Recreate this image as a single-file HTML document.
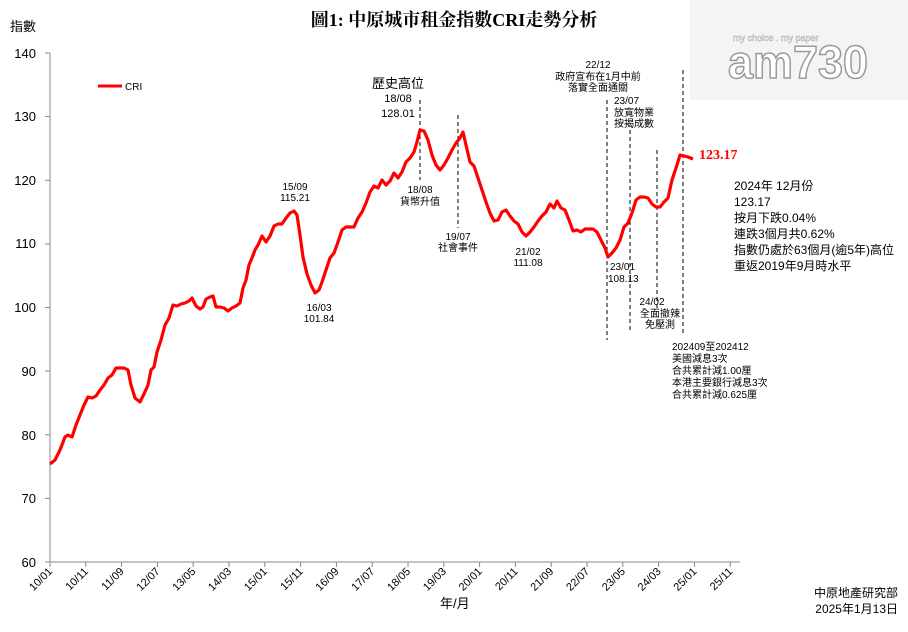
<!DOCTYPE html>
<html><head><meta charset="utf-8"><style>
body{margin:0;background:#fff;width:908px;height:627px;overflow:hidden;font-family:"Liberation Sans","Noto Sans CJK TC",sans-serif;}
svg text{font-family:"Liberation Sans","Noto Sans CJK TC",sans-serif;}
</style></head><body>
<svg width="908" height="627" viewBox="0 0 908 627" xmlns="http://www.w3.org/2000/svg">
<rect x="690" y="0" width="218" height="100" fill="#f4f4f4"/>
<text x="733" y="41" font-size="9" fill="#fff" stroke="#bbb" stroke-width="0.6">my choice . my paper</text>
<text x="728" y="78" font-size="46" font-weight="bold" fill="#fff" stroke="#999" stroke-width="1.5" textLength="140" lengthAdjust="spacingAndGlyphs">am730</text>
<text x="454" y="26" text-anchor="middle" font-size="18" font-weight="bold" style="font-family:'Liberation Serif','Noto Serif CJK SC',serif">圖1: 中原城市租金指數CRI走勢分析</text>
<text x="10" y="31" font-size="13">指數</text>
<g stroke="#888" stroke-width="1">
<line x1="50" y1="53" x2="50" y2="562"/><line x1="50" y1="562" x2="740" y2="562"/>
<line x1="45" y1="53" x2="50" y2="53"/><line x1="45" y1="116.6" x2="50" y2="116.6"/><line x1="45" y1="180.3" x2="50" y2="180.3"/><line x1="45" y1="243.9" x2="50" y2="243.9"/><line x1="45" y1="307.5" x2="50" y2="307.5"/><line x1="45" y1="371.1" x2="50" y2="371.1"/><line x1="45" y1="434.8" x2="50" y2="434.8"/><line x1="45" y1="498.4" x2="50" y2="498.4"/><line x1="45" y1="562" x2="50" y2="562"/>
</g>
<g font-size="13" text-anchor="end">
<text x="36" y="58">140</text><text x="36" y="121">130</text><text x="36" y="185">120</text><text x="36" y="248">110</text><text x="36" y="312">100</text><text x="36" y="376">90</text><text x="36" y="440">80</text><text x="36" y="503">70</text><text x="36" y="567">60</text>
</g>
<g stroke="#888" id="ticks"></g>
<g font-size="11" id="xl"></g>
<text x="440" y="608" font-size="13">年/月</text>
<g stroke="#000" stroke-width="1" stroke-dasharray="4,3" fill="none">
<line x1="420" y1="100" x2="420" y2="180"/><line x1="458" y1="115" x2="458" y2="228"/>
<line x1="607" y1="100" x2="607" y2="340"/><line x1="630" y1="130" x2="630" y2="333"/>
<line x1="657" y1="150" x2="657" y2="308"/><line x1="683" y1="70" x2="683" y2="335"/>
</g>
<polyline fill="none" stroke="#f00" stroke-width="3.2" stroke-linejoin="round" points="50,464 55,460 60,450 65,437 68,435 72,437 76,425 80,415 84,405 88,397 92,398 96,396 100,390 104,385 108,378 112,375 116,368 120,368 124,368 128,370 131,385 135,398 140,402 144,394 148,385 151,370 154,367 157,352 161,340 165,325 169,318 173,305 177,306 181,304 185,303 189,301 192,298 196,306 200,309 203,307 206,299 210,297 213,296 216,307 220,307 224,308 228,311 232,308 236,306 240,303 243,288 246,280 249,265 252,258 255,250 258,245 262,236 266,242 270,236 274,226 278,224 282,224 286,218 290,213 294,211 297,215 300,235 303,257 307,274 311,285 315,293 319,290 322,282 326,270 330,258 334,253 338,242 342,230 346,227 350,227 354,227 358,218 362,212 366,203 370,192 374,186 378,188 382,180 386,185 390,181 394,173 398,178 402,172 406,162 410,158 414,152 417,142 420,130 424,131 428,140 432,155 436,165 440,170 444,165 448,158 452,150 456,143 460,138 463,132 466,145 470,162 474,166 478,178 482,190 486,202 490,213 494,221 498,220 502,212 506,210 510,216 514,221 518,224 522,232 526,236 530,232 534,227 538,221 542,216 546,212 550,204 554,208 557,201 561,208 565,210 569,220 573,231 577,230 581,232 585,229 589,229 593,229 597,232 601,240 605,248 608,257 612,253 616,248 620,240 624,227 628,223 632,213 636,200 640,197 644,197 648,198 652,204 656,207 660,207 664,202 668,198 672,180 676,168 680,155 684,156 688,157 693,159"/>
<line x1="98" y1="86" x2="122" y2="86" stroke="#f00" stroke-width="3"/>
<text x="125" y="90" font-size="10">CRI</text>
<g font-size="10" text-anchor="middle">
<text x="398" y="88" font-size="13">歷史高位</text>
<text x="398" y="102" font-size="11">18/08</text><text x="398" y="117" font-size="11">128.01</text>
<text x="420" y="193">18/08</text><text x="420" y="205">貨幣升值</text>
<text x="458" y="240">19/07</text><text x="458" y="251">社會事件</text>
<text x="295" y="190">15/09</text><text x="295" y="201">115.21</text>
<text x="319" y="311">16/03</text><text x="319" y="322">101.84</text>
<text x="528" y="255">21/02</text><text x="528" y="266">111.08</text>
<text x="598" y="68">22/12</text><text x="598" y="80">政府宣布在1月中前</text><text x="598" y="91">落實全面通關</text>
<text x="652" y="305">24/02</text><text x="660" y="317">全面撤辣</text><text x="660" y="328">免壓測</text>
</g>
<g font-size="10">
<text x="614" y="104">23/07</text><text x="614" y="116">放寬物業</text><text x="614" y="127">按揭成數</text>
<text x="610" y="270">23/01</text><text x="608" y="282">108.13</text>
<text x="672" y="350">202409至202412</text><text x="672" y="362">美國減息3次</text><text x="672" y="374">合共累計減1.00厘</text><text x="672" y="386">本港主要銀行減息3次</text><text x="672" y="398">合共累計減0.625厘</text>
</g>
<text x="699" y="159" font-size="14" font-weight="bold" fill="#f00" style="font-family:'Liberation Serif',serif">123.17</text>
<g font-size="12">
<text x="734" y="190">2024年 12月份</text><text x="734" y="206">123.17</text><text x="734" y="222">按月下跌0.04%</text><text x="734" y="238">連跌3個月共0.62%</text><text x="734" y="254">指數仍處於63個月(逾5年)高位</text><text x="734" y="270">重返2019年9月時水平</text>
<text x="898" y="597" text-anchor="end">中原地產研究部</text><text x="898" y="613" text-anchor="end">2025年1月13日</text>
</g>
</svg>
<script>
var L=["10/01","10/11","11/09","12/07","13/05","14/03","15/01","15/11","16/09","17/07","18/05","19/03","20/01","20/11","21/09","22/07","23/05","24/03","25/01","25/11"];
var t=document.getElementById('ticks'),x=document.getElementById('xl'),ns="http://www.w3.org/2000/svg";
L.forEach(function(s,i){var p=50+35.8*i;var l=document.createElementNS(ns,'line');l.setAttribute('x1',p);l.setAttribute('x2',p);l.setAttribute('y1',562);l.setAttribute('y2',567);t.appendChild(l);
var e=document.createElementNS(ns,'text');e.setAttribute('text-anchor','end');e.setAttribute('transform','translate('+(p+3)+',572) rotate(-45)');e.textContent=s;x.appendChild(e);});
</script>
</body></html>
